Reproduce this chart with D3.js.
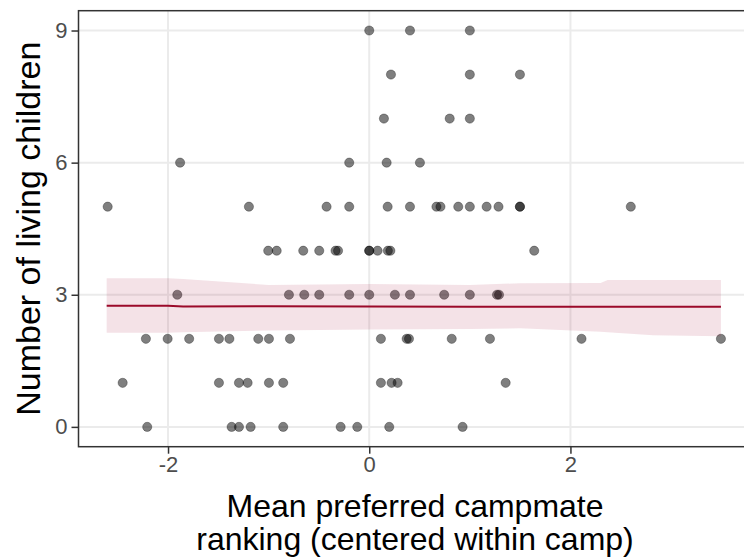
<!DOCTYPE html>
<html>
<head>
<meta charset="utf-8">
<script src="https://cdn.jsdelivr.net/npm/d3@7"></script>
<style>
  body { margin: 0; background: #fff; }
  text { font-family: "Liberation Sans", Arial, sans-serif; }
</style>
</head>
<body>
<div id="chart"></div>
<script>
// mean preferred campmate ranking (x) and number of living children (y)
var ranking = [
    0.0, 0.405, 1.0,
    0.216, 1.0, 1.498,
    0.146, 0.80, 1.0,
    -1.88, -0.199, 0.173, 0.504,
    -2.60, -1.196, -0.424, -0.199, 0.183, 0.405, 0.668, 0.708, 0.885, 1.0, 1.167, 1.285, 1.498, 1.498, 2.60,
    -1.004, -0.92, -0.656, -0.497, -0.335, -0.31, 0.0, 0.0, 0.083, 0.185, 0.21, 1.64,
    -1.908, -0.798, -0.646, -0.497, -0.199, 0.0, 0.255, 0.405, 0.745, 1.0, 1.27, 1.29,
    -2.22, -2.004, -1.79, -1.494, -1.39, -1.103, -0.997, -0.788, 0.116, 0.372, 0.395, 0.82, 1.2, 2.11, 3.496,
    -2.451, -1.494, -1.295, -1.209, -0.997, -0.855, 0.116, 0.222, 0.282, 1.356,
    -2.207, -1.368, -1.295, -1.179, -0.855, -0.284, -0.119, 0.199, 0.928
];
var children = [
    9, 9, 9,
    8, 8, 8,
    7, 7, 7,
    6, 6, 6, 6,
    5, 5, 5, 5, 5, 5, 5, 5, 5, 5, 5, 5, 5, 5, 5,
    4, 4, 4, 4, 4, 4, 4, 4, 4, 4, 4, 4,
    3, 3, 3, 3, 3, 3, 3, 3, 3, 3, 3, 3,
    2, 2, 2, 2, 2, 2, 2, 2, 2, 2, 2, 2, 2, 2, 2,
    1, 1, 1, 1, 1, 1, 1, 1, 1, 1,
    0, 0, 0, 0, 0, 0, 0, 0, 0
];

// fitted line and confidence band
var fitX = [-2.61, -2.0, -1.85, -1.0, 0.0, 1.0, 1.5, 2.3, 2.37, 2.82, 3.496];
var fitY = [2.752, 2.752, 2.735, 2.738, 2.735, 2.73, 2.73, 2.73, 2.73, 2.73, 2.73];
var fitLo = [2.139, 2.139, 2.15, 2.19, 2.212, 2.223, 2.239, 2.16, 2.15, 2.08, 2.06];
var fitHi = [3.374, 3.374, 3.36, 3.222, 3.245, 3.222, 3.261, 3.268, 3.336, 3.336, 3.336];

var xTicks = [-2, 0, 2];
var yTicks = [0, 3, 6, 9];

var width = 744, height = 558;
var panel = { left: 78.5, top: 10.7, bottom: 446.7 };

var x = d3.scaleLinear().domain([-2.89, 3.80]).range([panel.left, panel.left + 6.69 * 100.6]);
var y = d3.scaleLinear().domain([-0.45, 9.45]).range([panel.bottom, panel.top]);

var svg = d3.select('#chart').append('svg')
    .attr('width', width)
    .attr('height', height);

var panelW = x.range()[1] - panel.left,
    panelH = panel.bottom - panel.top;

// grid
var grid = svg.append('g');
grid.selectAll('.gx')
    .data(xTicks)
    .enter().append('line')
    .attr('x1', function(d) { return x(d); })
    .attr('x2', function(d) { return x(d); })
    .attr('y1', panel.top)
    .attr('y2', panel.bottom)
    .attr('stroke', '#ebebeb')
    .attr('stroke-width', 2);
grid.selectAll('.gy')
    .data(yTicks)
    .enter().append('line')
    .attr('x1', panel.left)
    .attr('x2', x.range()[1])
    .attr('y1', function(d) { return y(d); })
    .attr('y2', function(d) { return y(d); })
    .attr('stroke', '#ebebeb')
    .attr('stroke-width', 2);

// points
svg.append('g').selectAll('circle')
    .data(ranking.map(function(v, i) { return [v, children[i]]; }))
    .enter().append('circle')
    .attr('cx', function(d) { return x(d[0]); })
    .attr('cy', function(d) { return y(d[1]); })
    .attr('r', 4.6)
    .attr('fill', 'rgba(0,0,0,0.5)')
    .attr('stroke', 'rgba(0,0,0,0.3)')
    .attr('stroke-width', 1);

// ribbon + fit
var band = fitX.map(function(v, i) { return { x: v, lo: fitLo[i], hi: fitHi[i], fit: fitY[i] }; });

svg.append('path')
    .datum(band)
    .attr('d', d3.area()
        .x(function(d) { return x(d.x); })
        .y0(function(d) { return y(d.lo); })
        .y1(function(d) { return y(d.hi); }))
    .attr('fill', '#a3123a')
    .attr('fill-opacity', 0.12);

svg.append('path')
    .datum(band)
    .attr('d', d3.line()
        .x(function(d) { return x(d.x); })
        .y(function(d) { return y(d.fit); }))
    .attr('fill', 'none')
    .attr('stroke', '#9b0a2a')
    .attr('stroke-width', 2);

// panel border
svg.append('rect')
    .attr('x', panel.left)
    .attr('y', panel.top)
    .attr('width', panelW)
    .attr('height', panelH)
    .attr('fill', 'none')
    .attr('stroke', '#333333')
    .attr('stroke-width', 1.5);

// axes
var xAxis = svg.append('g')
    .attr('transform', 'translate(0,' + panel.bottom + ')')
    .call(d3.axisBottom(x).tickValues(xTicks).tickSize(7).tickPadding(3).tickFormat(d3.format('d')));
var yAxis = svg.append('g')
    .attr('transform', 'translate(' + panel.left + ',0)')
    .call(d3.axisLeft(y).tickValues(yTicks).tickSize(7).tickPadding(4).tickFormat(d3.format('d')));

[xAxis, yAxis].forEach(function(a) {
    a.select('.domain').remove();
    a.selectAll('line').attr('stroke', '#333333').attr('stroke-width', 1.5);
    a.selectAll('text')
        .attr('fill', '#4d4d4d')
        .style('font-size', '22px')
        .style('font-family', '"Liberation Sans", Arial, sans-serif');
});
xAxis.selectAll('text').text(function(d) { return d < 0 ? '-' + Math.abs(d) : d; });

// titles
var cx = panel.left + panelW / 2;
var xt = svg.append('text')
    .attr('text-anchor', 'middle')
    .attr('fill', '#000')
    .style('font-size', '32px');
xt.append('tspan').attr('x', cx).attr('y', 517).text('Mean preferred campmate');
xt.append('tspan').attr('x', cx).attr('y', 550).text('ranking (centered within camp)');

svg.append('text')
    .attr('transform', 'translate(40,' + (panel.top + panelH / 2) + ') rotate(-90)')
    .attr('text-anchor', 'middle')
    .attr('fill', '#000')
    .style('font-size', '34px')
    .text('Number of living children');
</script>
</body>
</html>
